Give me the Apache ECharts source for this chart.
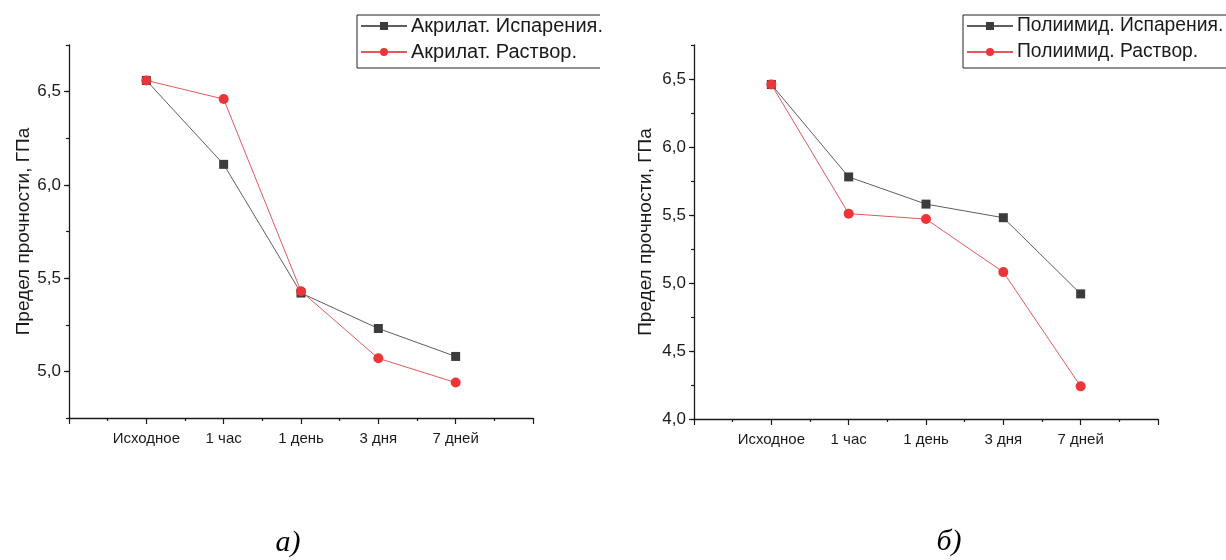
<!DOCTYPE html>
<html>
<head>
<meta charset="utf-8">
<script src="https://cdn.jsdelivr.net/npm/echarts@6/dist/echarts.min.js"></script>
<style>
  html, body { margin: 0; padding: 0; background: #fff; }
  #chart { width: 1226px; height: 560px; }
</style>
</head>
<body>
<div id="chart"></div>
<script>
// Exposure stages along the x axis
const categories = ['Исходное', '1 час', '1 день', '3 дня', '7 дней'];

// Tensile strength, GPa — acrylate coating
const acrylEvapName = 'Акрилат. Испарения.';
const acrylSolName = 'Акрилат. Раствор.';
const acrylEvap = [6.56, 6.11, 5.42, 5.23, 5.08];
const acrylSol = [6.56, 6.46, 5.43, 5.07, 4.94];

// Tensile strength, GPa — polyimide coating
const polyEvapName = 'Полиимид. Испарения.';
const polySolName = 'Полиимид. Раствор.';
const polyEvap = [6.46, 5.78, 5.58, 5.48, 4.92];
const polySol = [6.46, 5.51, 5.47, 5.08, 4.24];

// Labelled y ticks for each panel
const leftTicks = [5.0, 5.5, 6.0, 6.5];
const rightTicks = [4.0, 4.5, 5.0, 5.5, 6.0, 6.5];

const yName = 'Предел прочности, ГПа';
const panelCaptions = ['а)', 'б)'];

const FONT = '"Liberation Sans", Arial, sans-serif';
const AXIS_COLOR = '#1a1a1a';
const TEXT_COLOR = '#1a1a1a';

const toPoints = vals => vals.map((v, i) => [i + 1, v]);
const fmtComma = v => v.toFixed(1).replace('.', ',');

function xAxisFor(gridIndex) {
  return {
    type: 'value', gridIndex, min: 0, max: 6, interval: 1,
    axisLine: { show: true, lineStyle: { color: AXIS_COLOR, width: 1.3 } },
    axisTick: { show: true, length: 6, lineStyle: { color: AXIS_COLOR, width: 1.2 } },
    minorTick: { show: true, splitNumber: 2, length: 3, lineStyle: { color: AXIS_COLOR, width: 1.2 } },
    splitLine: { show: false },
    axisLabel: {
      margin: 13, fontFamily: FONT, fontSize: 15, color: TEXT_COLOR,
      formatter: v => (v >= 1 && v <= categories.length) ? categories[Math.round(v) - 1] : ''
    }
  };
}

// Main y axis: line, short ticks every 0.25 and labels at 0.5 steps
function yAxisMain(gridIndex, min, max, ticks, nameGap) {
  return {
    type: 'value', gridIndex, min, max, interval: 0.25, position: 'left',
    name: yName, nameLocation: 'middle', nameGap, nameRotate: 90,
    nameTextStyle: { fontFamily: FONT, fontSize: 19, color: TEXT_COLOR },
    axisLine: { show: true, lineStyle: { color: AXIS_COLOR, width: 1.3 } },
    axisTick: { show: true, length: 3, lineStyle: { color: AXIS_COLOR, width: 1.2 } },
    splitLine: { show: false },
    axisLabel: {
      margin: 8, fontFamily: FONT, fontSize: 17, color: TEXT_COLOR,
      customValues: ticks, formatter: v => fmtComma(v)
    }
  };
}

// Overlay y axis carrying only the longer ticks at labelled values
function yAxisMajorTicks(gridIndex, min, max, ticks) {
  return {
    type: 'value', gridIndex, min, max, position: 'left', offset: 0,
    axisLine: { show: false },
    axisTick: { show: true, length: 5, customValues: ticks, lineStyle: { color: AXIS_COLOR, width: 1.2 } },
    axisLabel: { show: false },
    splitLine: { show: false }
  };
}

function evapSeries(name, vals, xi, yi) {
  return {
    name, type: 'line', xAxisIndex: xi, yAxisIndex: yi, data: toPoints(vals),
    symbol: 'rect', symbolSize: 9, z: 2,
    lineStyle: { color: '#5e5e5e', width: 1 },
    itemStyle: { color: '#3c3c3c' }
  };
}

function solSeries(name, vals, xi, yi) {
  return {
    name, type: 'line', xAxisIndex: xi, yAxisIndex: yi, data: toPoints(vals),
    symbol: 'circle', symbolSize: 10, z: 3,
    lineStyle: { color: '#e25a5a', width: 1 },
    itemStyle: { color: '#ec3538' }
  };
}

function legendFor(left, names, fontSize) {
  return {
    orient: 'vertical', left, top: 16, padding: 0,
    itemWidth: 46, itemHeight: 10, itemGap: 6,
    data: names,
    textStyle: { fontFamily: FONT, fontSize, color: TEXT_COLOR, lineHeight: 20, padding: [0, 0, 0, -1] }
  };
}

function legendFrame(x0, x1, y0, y1) {
  return {
    type: 'polyline', silent: true,
    shape: { points: [[x1, y0], [x0, y0], [x0, y1], [x1, y1]] },
    style: { stroke: '#222', lineWidth: 1, fill: null }
  };
}

const chart = echarts.init(document.getElementById('chart'), null, { renderer: 'canvas' });

chart.setOption({
  backgroundColor: '#ffffff',
  animation: false,
  grid: [
    { left: 69, top: 45, width: 464, height: 373 },
    { left: 694, top: 45, width: 464, height: 374 }
  ],
  xAxis: [xAxisFor(0), xAxisFor(1)],
  yAxis: [
    yAxisMain(0, 4.75, 6.75, leftTicks, 36),
    yAxisMajorTicks(0, 4.75, 6.75, leftTicks),
    yAxisMain(1, 4.0, 6.75, rightTicks, 39),
    yAxisMajorTicks(1, 4.0, 6.75, rightTicks)
  ],
  legend: [
    legendFor(360, [acrylEvapName, acrylSolName], 20),
    legendFor(966, [polyEvapName, polySolName], 19.3)
  ],
  series: [
    evapSeries(acrylEvapName, acrylEvap, 0, 0),
    solSeries(acrylSolName, acrylSol, 0, 0),
    evapSeries(polyEvapName, polyEvap, 1, 2),
    solSeries(polySolName, polySol, 1, 2)
  ],
  graphic: [
    legendFrame(357, 600, 15, 68),
    legendFrame(963, 1226, 15, 68),
    {
      type: 'text', silent: true, x: 288, y: 543,
      style: { text: panelCaptions[0], font: 'italic 30px "Liberation Serif", "DejaVu Serif", serif',
               fill: '#000', align: 'center', verticalAlign: 'middle' }
    },
    {
      type: 'text', silent: true, x: 949, y: 542,
      style: { text: panelCaptions[1], font: 'italic 30px "Liberation Serif", "DejaVu Serif", serif',
               fill: '#000', align: 'center', verticalAlign: 'middle' }
    }
  ]
});
</script>
</body>
</html>
